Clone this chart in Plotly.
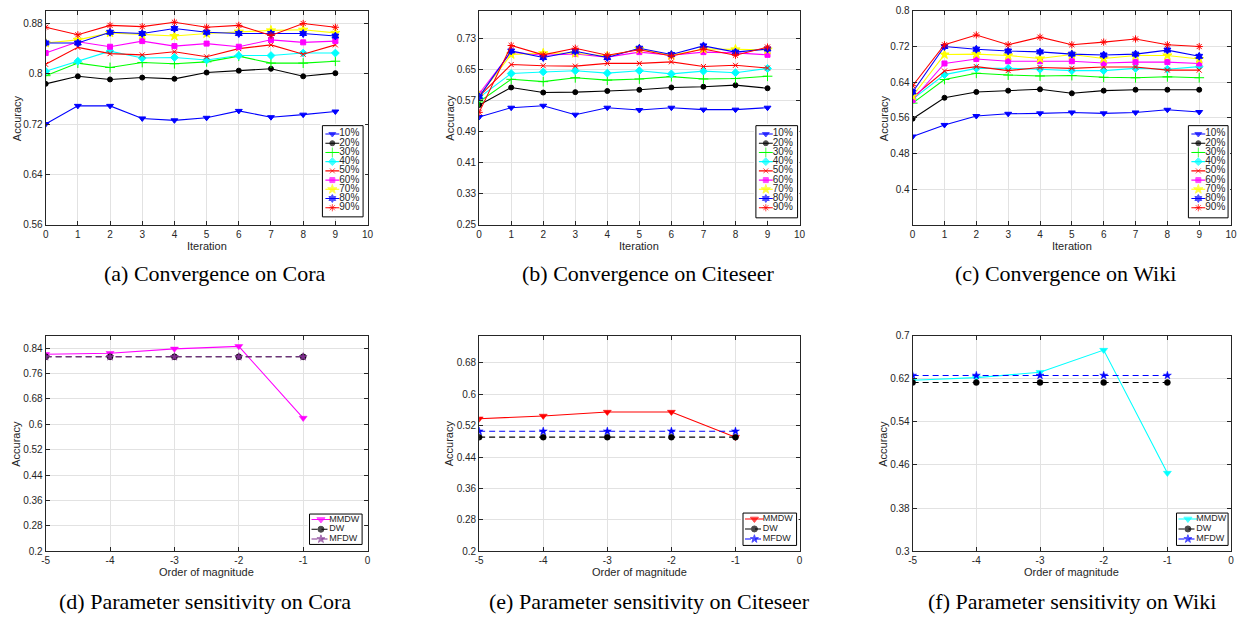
import plotly.graph_objects as go

# ---------------- data ----------------
iterations = [0, 1, 2, 3, 4, 5, 6, 7, 8, 9]
ratio_labels = ["10%", "20%", "30%", "40%", "50%", "60%", "70%", "80%", "90%"]

cora_conv = [
    [0.720, 0.749, 0.749, 0.729, 0.726, 0.730, 0.741, 0.731, 0.735, 0.740],
    [0.784, 0.796, 0.791, 0.794, 0.792, 0.802, 0.805, 0.808, 0.796, 0.801],
    [0.797, 0.817, 0.810, 0.818, 0.816, 0.819, 0.828, 0.817, 0.817, 0.820],
    [0.804, 0.820, 0.836, 0.825, 0.826, 0.822, 0.829, 0.829, 0.833, 0.833],
    [0.815, 0.842, 0.832, 0.830, 0.835, 0.827, 0.840, 0.846, 0.831, 0.846],
    [0.833, 0.851, 0.843, 0.852, 0.844, 0.848, 0.843, 0.854, 0.850, 0.852],
    [0.849, 0.854, 0.865, 0.862, 0.860, 0.864, 0.867, 0.869, 0.870, 0.865],
    [0.849, 0.849, 0.866, 0.864, 0.872, 0.866, 0.864, 0.864, 0.864, 0.860],
    [0.874, 0.862, 0.877, 0.875, 0.882, 0.874, 0.877, 0.861, 0.880, 0.874],
]
citeseer_conv = [
    [0.527, 0.551, 0.556, 0.533, 0.551, 0.545, 0.551, 0.546, 0.546, 0.551],
    [0.558, 0.603, 0.590, 0.591, 0.594, 0.597, 0.603, 0.605, 0.609, 0.601],
    [0.566, 0.624, 0.618, 0.628, 0.622, 0.625, 0.631, 0.625, 0.626, 0.632],
    [0.577, 0.639, 0.643, 0.646, 0.640, 0.646, 0.638, 0.645, 0.641, 0.652],
    [0.580, 0.662, 0.659, 0.658, 0.665, 0.665, 0.669, 0.657, 0.660, 0.653],
    [0.587, 0.694, 0.686, 0.689, 0.681, 0.694, 0.686, 0.694, 0.692, 0.687],
    [0.581, 0.688, 0.691, 0.691, 0.684, 0.702, 0.686, 0.702, 0.701, 0.700],
    [0.579, 0.697, 0.680, 0.696, 0.680, 0.704, 0.688, 0.710, 0.694, 0.702],
    [0.539, 0.711, 0.687, 0.704, 0.686, 0.700, 0.684, 0.702, 0.686, 0.707],
]
wiki_conv = [
    [0.518, 0.544, 0.564, 0.569, 0.570, 0.572, 0.570, 0.572, 0.578, 0.573],
    [0.558, 0.605, 0.618, 0.621, 0.624, 0.615, 0.621, 0.623, 0.623, 0.623],
    [0.593, 0.646, 0.660, 0.656, 0.654, 0.655, 0.651, 0.650, 0.652, 0.650],
    [0.602, 0.657, 0.671, 0.671, 0.669, 0.666, 0.666, 0.671, 0.669, 0.675],
    [0.606, 0.665, 0.675, 0.666, 0.673, 0.671, 0.674, 0.674, 0.667, 0.667],
    [0.600, 0.682, 0.692, 0.687, 0.687, 0.687, 0.683, 0.685, 0.685, 0.682],
    [0.609, 0.702, 0.703, 0.700, 0.693, 0.702, 0.693, 0.700, 0.700, 0.692],
    [0.618, 0.720, 0.714, 0.710, 0.708, 0.703, 0.701, 0.703, 0.712, 0.698],
    [0.632, 0.724, 0.746, 0.724, 0.741, 0.724, 0.730, 0.737, 0.724, 0.720],
]

orders = [-5, -4, -3, -2, -1]
method_labels = ["MMDW", "DW", "MFDW"]
cora_mmdw = [0.821, 0.824, 0.838, 0.846, 0.620]
cora_dw = [0.813, 0.813, 0.813, 0.813, 0.813]
cora_mfdw = [0.813, 0.813, 0.813, 0.813, 0.813]
citeseer_mmdw = [0.538, 0.545, 0.555, 0.555, 0.491]
citeseer_dw = [0.491, 0.491, 0.491, 0.491, 0.491]
citeseer_mfdw = [0.506, 0.506, 0.506, 0.506, 0.506]
wiki_mmdw = [0.617, 0.622, 0.632, 0.673, 0.445]
wiki_dw = [0.613, 0.613, 0.613, 0.613, 0.613]
wiki_mfdw = [0.626, 0.626, 0.626, 0.626, 0.626]

iter_ticks = [0, 1, 2, 3, 4, 5, 6, 7, 8, 9, 10]
order_ticks = [-5, -4, -3, -2, -1, 0]
order_ticktext = ["-5", "-4", "-3", "-2", "-1", "0"]
cora_yticks = [0.56, 0.64, 0.72, 0.8, 0.88]
cora_yticktext = ["0.56", "0.64", "0.72", "0.8", "0.88"]
citeseer_yticks = [0.25, 0.33, 0.41, 0.49, 0.57, 0.65, 0.73]
citeseer_yticktext = ["0.25", "0.33", "0.41", "0.49", "0.57", "0.65", "0.73"]
wiki_yticks = [0.4, 0.48, 0.56, 0.64, 0.72, 0.8]
wiki_yticktext = ["0.4", "0.48", "0.56", "0.64", "0.72", "0.8"]
sens_cora_yticks = [0.2, 0.28, 0.36, 0.44, 0.52, 0.6, 0.68, 0.76, 0.84]
sens_cora_yticktext = ["0.2", "0.28", "0.36", "0.44", "0.52", "0.6", "0.68", "0.76", "0.84"]
sens_citeseer_yticks = [0.2, 0.28, 0.36, 0.44, 0.52, 0.6, 0.68]
sens_citeseer_yticktext = ["0.2", "0.28", "0.36", "0.44", "0.52", "0.6", "0.68"]
sens_wiki_yticks = [0.3, 0.38, 0.46, 0.54, 0.62, 0.7]
sens_wiki_yticktext = ["0.3", "0.38", "0.46", "0.54", "0.62", "0.7"]

captions = ["(a) Convergence on Cora", "(b) Convergence on Citeseer", "(c) Convergence on Wiki",
            "(d) Parameter sensitivity on Cora", "(e) Parameter sensitivity on Citeseer",
            "(f) Parameter sensitivity on Wiki"]

# ---------------- styles ----------------
W, H = 1244, 624
SANS = "Liberation Sans, Arial, sans-serif"
SERIF = "Liberation Serif, Times New Roman, serif"
TXT = "#262626"
conv_colors = ["#0000ff", "#000000", "#00ff00", "#00ffff", "#ff0000",
               "#ff00ff", "#ffff00", "#0000ff", "#ff0000"]
conv_symbols = ["triangle-down", "circle", "cross-thin-open", "diamond", "x-thin-open",
                "square", "star", "hexagram", "asterisk-open"]
conv_sizes = [6, 5, 7, 6, 5, 5, 7, 6, 6]

col_px = [(42, 366.5), (479, 802), (916, 1237)]
row_px = [(5, 223), (336, 556)]


def xd(a, b):
    return [a / W, b / W]


def yd(top, bottom):
    return [1 - bottom / H, 1 - top / H]


fig = go.Figure()
layout = {}


def axname(k, letter):
    return letter if k == 1 else f"{letter}{k}"


def main_axis(rng, tickvals, ticktext, domain):
    return dict(range=rng, tickmode="array", tickvals=tickvals, ticktext=ticktext,
                domain=domain, showline=True, linecolor=TXT, linewidth=1, mirror="ticks",
                ticks="inside", ticklen=4, tickcolor=TXT, showgrid=True,
                gridcolor="#e2e2e2", gridwidth=1, zeroline=False, fixedrange=True,
                tickfont=dict(family=SANS, size=10, color=TXT))


# ---------- convergence panels ----------
conv_sets = [(cora_conv, [0.56, 0.9], cora_yticks, cora_yticktext),
             (citeseer_conv, [0.25, 0.8], citeseer_yticks, citeseer_yticktext),
             (wiki_conv, [0.32, 0.8], wiki_yticks, wiki_yticktext)]
for c, (data, yr, yt, ytt) in enumerate(conv_sets):
    k = c + 1
    xa, ya = axname(k, "x"), axname(k, "y")
    sfx = "" if k == 1 else str(k)
    layout["xaxis" + sfx] = main_axis([0, 10], iter_ticks, [str(v) for v in iter_ticks],
                                      xd(*col_px[c]))
    layout["xaxis" + sfx]["anchor"] = ya
    layout["yaxis" + sfx] = main_axis(yr, yt, ytt, yd(*row_px[0]))
    layout["yaxis" + sfx]["anchor"] = xa
    for i, series in enumerate(data):
        col = conv_colors[i]
        fig.add_trace(go.Scatter(
            x=iterations, y=series, mode="lines+markers", name=ratio_labels[i],
            xaxis=xa, yaxis=ya, showlegend=False,
            line=dict(color=col, width=1.1),
            marker=dict(symbol=conv_symbols[i], size=conv_sizes[i], color=col,
                        line=dict(color=col, width=1))))

# ---------- sensitivity panels ----------
sens_sets = [((cora_mmdw, cora_dw, cora_mfdw), ["#ff00ff", "#000000", "#7e2f8e"],
              [0.2, 0.88], sens_cora_yticks, sens_cora_yticktext),
             ((citeseer_mmdw, citeseer_dw, citeseer_mfdw), ["#ff0000", "#000000", "#0000ff"],
              [0.2, 0.75], sens_citeseer_yticks, sens_citeseer_yticktext),
             ((wiki_mmdw, wiki_dw, wiki_mfdw), ["#00ffff", "#000000", "#0000ff"],
              [0.3, 0.7], sens_wiki_yticks, sens_wiki_yticktext)]
sens_symbols = ["triangle-down", "circle", "star"]
sens_sizes = [7, 6, 6]
sens_dash = ["solid", "6px,4px", "6px,4px"]
sens_colors_all = []
for c, (series_set, cols, yr, yt, ytt) in enumerate(sens_sets):
    k = c + 4
    xa, ya = axname(k, "x"), axname(k, "y")
    layout[f"xaxis{k}"] = main_axis([-5, 0], order_ticks, order_ticktext, xd(*col_px[c]))
    layout[f"xaxis{k}"]["anchor"] = ya
    layout[f"yaxis{k}"] = main_axis(yr, yt, ytt, yd(*row_px[1]))
    layout[f"yaxis{k}"]["anchor"] = xa
    sens_colors_all.append(cols)
    for i, series in enumerate(series_set):
        col = cols[i]
        fig.add_trace(go.Scatter(
            x=orders, y=series, mode="lines+markers", name=method_labels[i],
            xaxis=xa, yaxis=ya, showlegend=False,
            line=dict(color=col, width=1.1, dash=sens_dash[i]),
            marker=dict(symbol=sens_symbols[i], size=sens_sizes[i], color=col,
                        line=dict(color=col, width=0.5))))

# ---------- custom compact legends (decoration drawn in pixel units) ----------
legend_boxes = [  # left, top, width, height, first entry offset, spacing, line x0, x1, text x, font
    (321, 122, 41, 93, 8.5, 9.4, 3, 17, 17, 10),
    (758, 122, 42, 94, 8.5, 9.4, 3, 17, 17, 10),
    (1194, 122, 40, 94, 8.5, 9.4, 3, 17, 17, 10),
    (308, 518, 53, 31, 5.5, 10, 2, 21, 20, 9),
    (745, 517, 54, 33, 6, 10.2, 2, 21, 20, 9),
    (1182, 517, 52, 33, 6, 10.2, 2, 21, 20, 9),
]
for j, (L, T, BW, BH, y0, dy, lx0, lx1, tx, fs) in enumerate(legend_boxes):
    k = 7 + j
    xa, ya = f"x{k}", f"y{k}"
    hidden = dict(visible=False, fixedrange=True, showgrid=False, zeroline=False)
    layout[f"xaxis{k}"] = dict(hidden, domain=xd(L - 2, L + BW + 2), range=[-2, BW + 2], anchor=ya)
    layout[f"yaxis{k}"] = dict(hidden, domain=yd(T - 2, T + BH + 2), range=[BH + 2, -2], anchor=xa)
    fig.add_trace(go.Scatter(x=[0, BW, BW, 0, 0], y=[0, 0, BH, BH, 0], mode="lines",
                             fill="toself", fillcolor="white", line=dict(color="#000000", width=1),
                             xaxis=xa, yaxis=ya, showlegend=False, hoverinfo="skip"))
    if j < 3:
        labels, cols, syms, sizes, dashes = ratio_labels, conv_colors, conv_symbols, conv_sizes, ["solid"] * 9
    else:
        labels, cols, syms, sizes, dashes = method_labels, sens_colors_all[j - 3], sens_symbols, sens_sizes, sens_dash
    ys = []
    for i, lab in enumerate(labels):
        yy = y0 + i * dy
        ys.append(yy)
        mx = (lx0 + lx1) / 2
        fig.add_trace(go.Scatter(
            x=[lx0, mx, lx1], y=[yy, yy, yy], mode="lines+markers",
            line=dict(color=cols[i], width=1.1, dash=dashes[i]),
            marker=dict(symbol=syms[i], size=[0, sizes[i], 0], color=cols[i],
                        line=dict(color=cols[i], width=1)),
            xaxis=xa, yaxis=ya, showlegend=False, hoverinfo="skip", cliponaxis=False))
    fig.add_trace(go.Scatter(
        x=[tx] * len(labels), y=ys, mode="text", text=labels, textposition="middle right",
        textfont=dict(family=SANS, size=fs, color=TXT),
        xaxis=xa, yaxis=ya, showlegend=False, hoverinfo="skip", cliponaxis=False))

# ---------- axis titles and captions ----------
ann = []
for c in range(3):
    cx = (col_px[c][0] + col_px[c][1]) / 2
    ylab_x = col_px[c][0] - 29.5
    for r in range(2):
        cy = (row_px[r][0] + row_px[r][1]) / 2
        ann.append(dict(text="Accuracy", x=ylab_x / W, y=1 - cy / H, xref="paper", yref="paper",
                        textangle=-90, showarrow=False, xanchor="center", yanchor="middle",
                        font=dict(family=SANS, size=11, color=TXT)))
    ann.append(dict(text="Iteration", x=cx / W, y=1 - 244.5 / H, xref="paper", yref="paper",
                    showarrow=False, xanchor="center", yanchor="middle",
                    font=dict(family=SANS, size=11, color=TXT)))
    ann.append(dict(text="Order of magnitude", x=cx / W, y=1 - 577 / H, xref="paper", yref="paper",
                    showarrow=False, xanchor="center", yanchor="middle",
                    font=dict(family=SANS, size=11, color=TXT)))

cap_x = [212.5, 650, 1070, 203, 651, 1077]
cap_y = [273, 273, 273, 607, 607, 607]
for i, t in enumerate(captions):
    ann.append(dict(text=t, x=cap_x[i] / W, y=1 - cap_y[i] / H, xref="paper", yref="paper",
                    showarrow=False, xanchor="center", yanchor="middle",
                    font=dict(family=SERIF, size=22, color="#000000")))

fig.update_layout(**layout)
fig.update_layout(width=W, height=H, margin=dict(l=0, r=0, t=0, b=0), autosize=False,
                  paper_bgcolor="white", plot_bgcolor="white", showlegend=False,
                  annotations=ann, hovermode=False)

fig.write_html("out.html", include_plotlyjs=True, config={"displayModeBar": False},
               post_script="document.body.style.margin='0';document.body.style.overflow='hidden';")
